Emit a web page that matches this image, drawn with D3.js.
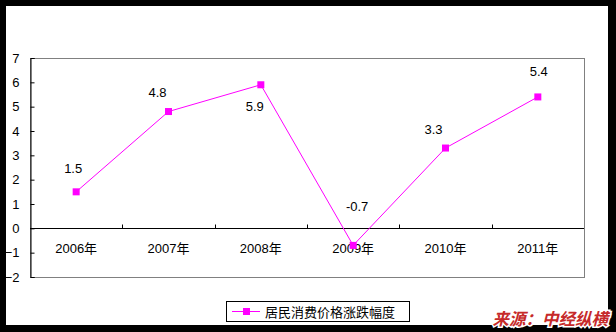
<!DOCTYPE html>
<html>
<head>
<meta charset="utf-8">
<script src="https://cdn.jsdelivr.net/npm/d3@7"></script>
<style>
  body { margin: 0; background: #fff; }
  text { font-family: Arial, "Liberation Sans", "Noto Sans CJK SC", sans-serif; }
</style>
</head>
<body>
<div id="vis"></div>
<script>
// data
const years = ["2006年", "2007年", "2008年", "2009年", "2010年", "2011年"];
const cpiValues = [1.5, 4.8, 5.9, -0.7, 3.3, 5.4];
const yTicks = [-2, -1, 0, 1, 2, 3, 4, 5, 6, 7];
const seriesName = "居民消费价格涨跌幅度";
const sourceText = "来源：中经纵横";
// label nudges (px) relative to each point
const labelDx = [-3, -11, -6, 4, -12, 1];
const labelDy = [-23, -19, 22, -39, -19, -25];

const width = 616, height = 332;
const plot = {left: 30, right: 584, top: 58, bottom: 277};

const svg = d3.select("#vis").append("svg")
    .attr("width", width)
    .attr("height", height);

// black frame
svg.append("rect").attr("width", width).attr("height", height).attr("fill", "#000");
svg.append("rect").attr("x", 6).attr("y", 6).attr("width", 602).attr("height", 319).attr("fill", "#fff");

const x = d3.scaleBand().domain(years).range([plot.left, plot.right]);
const y = d3.scaleLinear().domain([-2, 7]).range([plot.bottom, plot.top]);

// plot border (gray top/right/bottom)
svg.append("rect")
    .attr("x", plot.left + 0.5).attr("y", plot.top + 0.5)
    .attr("width", plot.right - plot.left).attr("height", plot.bottom - plot.top)
    .attr("fill", "none").attr("stroke", "#808080");

// y axis
const yAxis = d3.axisRight(y).tickValues(yTicks).tickSize(4).tickFormat(d3.format("d"));
const yg = svg.append("g")
    .attr("transform", `translate(${plot.left + 0.5},0)`)
    .call(yAxis);
yg.select(".domain").attr("stroke", "#000");
yg.selectAll(".tick line").attr("stroke", "#000");
yg.selectAll(".tick text")
    .attr("x", -11).attr("text-anchor", "end")
    .attr("font-size", 13).attr("fill", "#000");

// zero line with category ticks
const xg = svg.append("g")
    .attr("transform", `translate(0,${Math.round(y(0)) + 0.5})`);
xg.append("line")
    .attr("x1", plot.left).attr("x2", plot.right)
    .attr("stroke", "#000");
xg.selectAll(".cat-tick")
    .data(years.slice(1))
    .join("line")
    .attr("x1", d => Math.round(x(d)) + 0.5).attr("x2", d => Math.round(x(d)) + 0.5)
    .attr("y1", 0).attr("y2", -4)
    .attr("stroke", "#000");

// category labels
svg.selectAll(".cat-label")
    .data(years)
    .join("text")
    .attr("x", d => x(d) + x.bandwidth() / 2)
    .attr("y", 253)
    .attr("text-anchor", "middle")
    .attr("font-size", 13)
    .attr("fill", "#000")
    .text(d => d);

// line
const line = d3.line()
    .x((d, i) => x(years[i]) + x.bandwidth() / 2)
    .y(d => y(d));

svg.append("path")
    .datum(cpiValues)
    .attr("d", line)
    .attr("fill", "none")
    .attr("stroke", "#ff00ff")
    .attr("stroke-width", 1);

svg.selectAll(".marker")
    .data(cpiValues)
    .join("rect")
    .attr("x", (d, i) => x(years[i]) + x.bandwidth() / 2 - 3.5)
    .attr("y", d => y(d) - 3.5)
    .attr("width", 7).attr("height", 7)
    .attr("fill", "#ff00ff");

// data labels
svg.selectAll(".val-label")
    .data(cpiValues)
    .join("text")
    .attr("x", (d, i) => x(years[i]) + x.bandwidth() / 2 + labelDx[i])
    .attr("y", (d, i) => y(d) + labelDy[i] + 4.5)
    .attr("text-anchor", "middle")
    .attr("font-size", 13)
    .attr("fill", "#000")
    .text(d => d);

// legend
const lg = svg.append("g").attr("transform", "translate(226,301)");
lg.append("rect")
    .attr("x", 0.5).attr("y", 0.5).attr("width", 183).attr("height", 20)
    .attr("fill", "#fff").attr("stroke", "#000");
lg.append("line")
    .attr("x1", 6).attr("x2", 34).attr("y1", 10.5).attr("y2", 10.5)
    .attr("stroke", "#ff00ff");
lg.append("rect")
    .attr("x", 17).attr("y", 7).attr("width", 7).attr("height", 7)
    .attr("fill", "#ff00ff");
lg.append("text")
    .attr("x", 39).attr("y", 15.5)
    .attr("font-size", 13)
    .attr("fill", "#000")
    .text(seriesName);

// source note
svg.append("text")
    .attr("x", 608).attr("y", 325)
    .attr("text-anchor", "end")
    .attr("font-size", 16.5)
    .attr("font-weight", "bold")
    .attr("font-style", "italic")
    .attr("fill", "#c62a2a")
    .attr("stroke", "#fff")
    .attr("stroke-width", 3)
    .attr("paint-order", "stroke")
    .style("font-family", "'Noto Sans CJK SC', sans-serif")
    .text(sourceText);
</script>
</body>
</html>
